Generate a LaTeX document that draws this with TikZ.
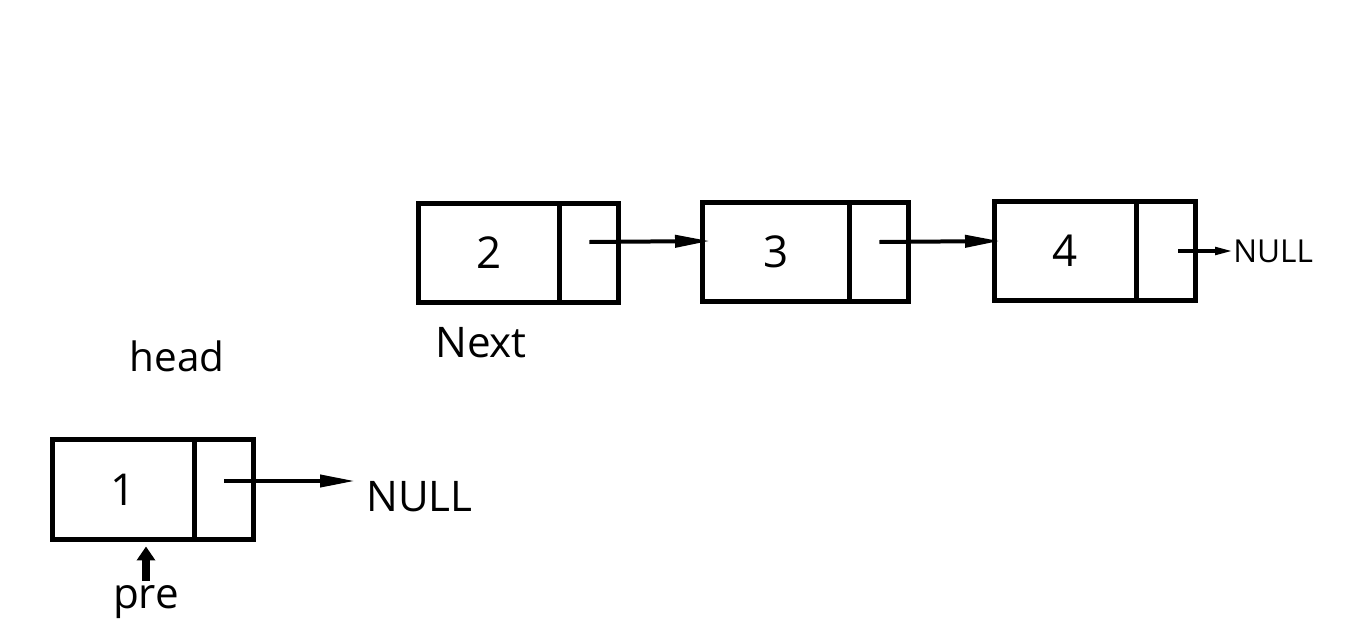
\documentclass[tikz,border=0pt]{standalone}
\usepackage{fontspec}
\setmainfont{Open Sans}
\usetikzlibrary{positioning, arrows.meta}

\begin{document}
\begin{tikzpicture}[x=0.02cm, y=-0.02cm,
      cell/.style={draw, line width=0.1cm, minimum height=2cm, minimum width=2.86cm, inner sep=0pt, outer sep=0pt, font=\fontsize{25}{30}\selectfont},
      ptr/.style={cell, minimum width=1.18cm},
      link/.style={line width=0.08cm, -{Triangle[length=0.7cm, width=0.24cm]}},
      lbl/.style={inner sep=0pt, font=\fontsize{24}{29}\selectfont}]
      \useasboundingbox (0,0) rectangle (1350,629);
      % list after the first node
      \node[cell, minimum width=2.84cm] (n2) at (489,253) {2};
      \node[ptr, right=0pt of n2] (p2) {};
      \node[cell, minimum width=2.96cm] (n3) at (776,252) {3};
      \node[ptr, right=0pt of n3] (p3) {};
      \node[cell] (n4) at (1065.5,251) {4};
      \node[ptr, right=0pt of n4] (p4) {};
      \node[lbl, anchor=west, font=\fontsize{18}{22}\selectfont] (null4) at (1233,251) {NULL};
      \node[lbl] (next) at (481,343) {Next};
      % head node
      \node[lbl, font=\fontsize{23}{28}\selectfont] (head) at (177,356) {head};
      \node[cell] (n1) at (123.5,489.5) {1};
      \node[ptr, right=0pt of n1] (p1) {};
      \node[lbl, anchor=west] (null1) at (366,497) {NULL};
      \node[lbl] (pre) at (146,602) {pre};
      \draw[link] ([yshift=0.22cm]p2.center) -- ([yshift=0.22cm,xshift=0.16cm]n3.west);
      \draw[link] ([yshift=0.2cm]p3.center) -- ([yshift=0.2cm,xshift=0.12cm]n4.west);
      \draw[line width=0.07cm, -{Triangle[length=0.36cm, width=0.15cm]}] ([xshift=0.24cm]p4.center) -- (null4.west |- p4.center);
      \draw[link, shorten >=0.22cm] ([yshift=0.17cm]p1.center) -- ([yshift=0.17cm]null1.west |- p1.center);
      \draw[line width=0.16cm, -{Triangle[length=0.28cm, width=0.36cm]}, shorten >=0.14cm] ([yshift=0.08cm]pre.north) -- (pre.north |- n1.south);
    \end{tikzpicture}
\end{document}
